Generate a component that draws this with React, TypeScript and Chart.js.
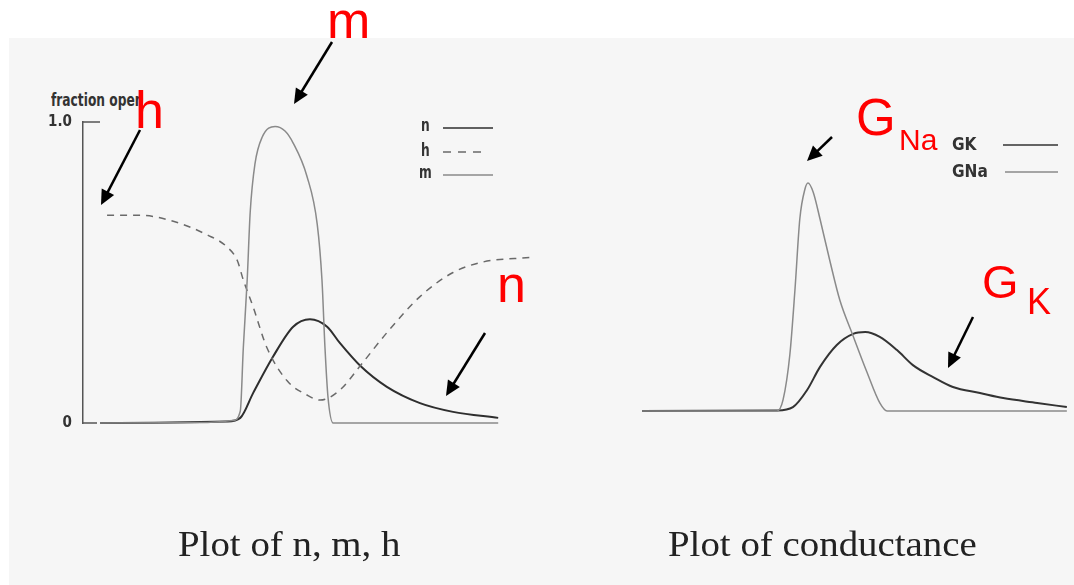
import React, { useEffect, useRef } from 'react';
import { Chart, registerables } from 'chart.js';

Chart.register(...registerables);

// ---- Left plot: gating variables (fraction open) vs time (arbitrary units) ----
const mTime = [0, 2.5, 3.09, 3.26, 3.33, 3.42, 3.49, 3.6, 3.77, 4.07, 4.3, 4.49, 4.81, 5.05, 5.16, 5.23, 5.3, 5.42, 9.26];
const mValues = [0, 0.002, 0.008, 0.04, 0.25, 0.475, 0.7, 0.86, 0.95, 0.985, 0.97, 0.93, 0.82, 0.66, 0.475, 0.25, 0.086, 0, 0];

const nTime = [0, 2.95, 3.26, 3.56, 4.02, 4.49, 4.88, 5.28, 5.58, 6.05, 6.67, 7.44, 8.21, 9.26];
const nValues = [0, 0.005, 0.017, 0.1, 0.22, 0.32, 0.345, 0.32, 0.265, 0.19, 0.12, 0.066, 0.037, 0.017];

const hTime = [0.16, 0.93, 1.7, 2.49, 2.95, 3.19, 3.33, 3.56, 3.88, 4.35, 4.81, 5.12, 5.58, 6.05, 6.67, 7.44, 8.21, 8.91, 10];
const hValues = [0.69, 0.69, 0.67, 0.625, 0.585, 0.54, 0.475, 0.385, 0.25, 0.14, 0.093, 0.076, 0.11, 0.19, 0.3, 0.42, 0.5, 0.535, 0.55];

const leftTickValues = [0, 1];
const leftTickLabels = ['0', '1.0'];

// ---- Right plot: conductances vs time ----
const gNaTime = [0, 3.14, 3.28, 3.44, 3.56, 3.67, 3.79, 3.86, 3.98, 4.14, 4.37, 4.6, 4.91, 5.23, 5.53, 5.7, 9.88];
const gNaValues = [0, 0, 0.037, 0.19, 0.41, 0.64, 0.74, 0.76, 0.73, 0.64, 0.5, 0.37, 0.25, 0.13, 0.027, 0, 0];

const gKTime = [0, 3.14, 3.51, 3.84, 4.14, 4.53, 4.91, 5.19, 5.53, 5.93, 6.3, 6.77, 7.23, 7.86, 8.4, 9.19, 9.88];
const gKValues = [0, 0.002, 0.013, 0.07, 0.147, 0.22, 0.257, 0.263, 0.247, 0.203, 0.153, 0.113, 0.08, 0.06, 0.043, 0.027, 0.013];

const toPoints = (xs: number[], ys: number[]) => xs.map((x, i) => ({ x, y: ys[i] }));

const CONDENSED = "'DejaVu Sans Condensed', 'DejaVu Sans', sans-serif";

const bracketPlugin = {
  id: 'bracketTicks',
  afterDraw(chart: any) {
    const y = chart.scales.y;
    if (!y || !y.options.display) return;
    const ctx = chart.ctx;
    const left = chart.chartArea.left;
    ctx.save();
    ctx.strokeStyle = '#555';
    ctx.lineWidth = 1.5;
    ctx.beginPath();
    const top = y.getPixelForValue(1);
    const bottom = y.getPixelForValue(0);
    ctx.moveTo(left, top);
    ctx.lineTo(left + 17, top);
    ctx.moveTo(left - 1, bottom);
    ctx.lineTo(left + 14, bottom);
    ctx.stroke();
    ctx.restore();
  },
};

function LeftChart() {
  const ref = useRef<HTMLCanvasElement>(null);
  useEffect(() => {
    const chart = new Chart(ref.current as HTMLCanvasElement, {
      type: 'line',
      data: {
        datasets: [
          { label: 'm', data: toPoints(mTime, mValues), borderColor: '#8a8a8a', borderWidth: 1.5 },
          { label: 'h', data: toPoints(hTime, hValues), borderColor: '#6a6a6a', borderWidth: 1.5, borderDash: [7, 6] },
          { label: 'n', data: toPoints(nTime, nValues), borderColor: '#2e2e2e', borderWidth: 2 },
        ].map((d) => ({ ...d, pointRadius: 0, fill: false, cubicInterpolationMode: 'monotone' as const, clip: 6 })),
      },
      options: {
        animation: false,
        responsive: false,
        devicePixelRatio: 1,
        layout: { padding: { left: 43, right: 30, top: 122, bottom: 162 } },
        plugins: { legend: { display: false }, tooltip: { enabled: false } },
        scales: {
          x: { type: 'linear', min: -0.4, max: 10, display: false },
          y: {
            type: 'linear',
            min: 0,
            max: 1,
            afterFit: (s: any) => { s.width = 40; },
            afterBuildTicks: (s: any) => { s.ticks = leftTickValues.map((v) => ({ value: v })); },
            ticks: {
              padding: 11,
              color: '#333',
              font: { family: CONDENSED, weight: 'bold', size: 15 },
              callback: (v: any) => leftTickLabels[leftTickValues.indexOf(Number(v))],
            },
            grid: { display: true, drawOnChartArea: false, drawTicks: false, color: 'rgba(0,0,0,0)' },
            border: { display: true, color: '#555', width: 1.5 },
          },
        },
      },
      plugins: [bracketPlugin],
    } as any);
    return () => chart.destroy();
  }, []);
  return <canvas ref={ref} width={560} height={585} style={{ position: 'absolute', left: 0, top: 0 }} />;
}

function RightChart() {
  const ref = useRef<HTMLCanvasElement>(null);
  useEffect(() => {
    const chart = new Chart(ref.current as HTMLCanvasElement, {
      type: 'line',
      data: {
        datasets: [
          { label: 'GNa', data: toPoints(gNaTime, gNaValues), borderColor: '#8a8a8a', borderWidth: 1.5 },
          { label: 'GK', data: toPoints(gKTime, gKValues), borderColor: '#333', borderWidth: 2 },
        ].map((d) => ({ ...d, pointRadius: 0, fill: false, cubicInterpolationMode: 'monotone' as const, clip: 6 })),
      },
      options: {
        animation: false,
        responsive: false,
        devicePixelRatio: 1,
        layout: { padding: { left: 42, right: 2, top: 111, bottom: 174 } },
        plugins: { legend: { display: false }, tooltip: { enabled: false } },
        scales: {
          x: { type: 'linear', min: 0, max: 10, display: false },
          y: { type: 'linear', min: 0, max: 1, display: false },
        },
      },
    } as any);
    return () => chart.destroy();
  }, []);
  return <canvas ref={ref} width={474} height={585} style={{ position: 'absolute', left: 600, top: 0 }} />;
}

type Arrow = { x1: number; y1: number; x2: number; y2: number };
const arrows: Arrow[] = [
  { x1: 332, y1: 42, x2: 294, y2: 104 },
  { x1: 140, y1: 130, x2: 101, y2: 205 },
  { x1: 485, y1: 333, x2: 446, y2: 396 },
  { x1: 832, y1: 137, x2: 807, y2: 161 },
  { x1: 973, y1: 317, x2: 948, y2: 368 },
];

function arrowHead(a: Arrow) {
  const dx = a.x2 - a.x1;
  const dy = a.y2 - a.y1;
  const len = Math.hypot(dx, dy);
  const ux = dx / len;
  const uy = dy / len;
  const L = 15;
  const W = 7;
  const bx = a.x2 - ux * L;
  const by = a.y2 - uy * L;
  return `${a.x2},${a.y2} ${bx - uy * W},${by + ux * W} ${bx + uy * W},${by - ux * W}`;
}

const redText = (text: string, left: number, top: number, size: number) => (
  <div
    style={{
      position: 'absolute',
      left,
      top,
      fontFamily: "'Liberation Sans', Arial, sans-serif",
      fontSize: size,
      lineHeight: 1,
      color: '#ff0000',
      whiteSpace: 'nowrap',
    }}
  >
    {text}
  </div>
);

const darkText = (text: string, left: number, top: number, size: number, scaleX = 1) => (
  <div
    style={{
      position: 'absolute',
      left,
      top,
      fontFamily: CONDENSED,
      fontWeight: 'bold',
      fontSize: size,
      lineHeight: 1,
      color: '#333',
      whiteSpace: 'nowrap',
      transform: `scaleX(${scaleX})`,
      transformOrigin: 'left top',
    }}
  >
    {text}
  </div>
);

const titleText = (text: string, left: number, top: number) => (
  <div
    style={{
      position: 'absolute',
      left,
      top,
      fontFamily: "'Liberation Serif', 'Times New Roman', serif",
      fontSize: 36,
      lineHeight: 1,
      color: '#222',
      whiteSpace: 'nowrap',
      transform: 'scaleX(1.08)',
      transformOrigin: 'left top',
    }}
  >
    {text}
  </div>
);

export default function App() {
  return (
    <div style={{ position: 'absolute', left: 0, top: 0, width: 1074, height: 585, background: '#fff', overflow: 'hidden' }}>
      <div style={{ position: 'absolute', left: 9, top: 38, right: 0, bottom: 0, background: '#f6f6f6' }} />
      {darkText('fraction open', 51, 92, 17, 0.8)}
      <LeftChart />
      <RightChart />
      {darkText('n', 421, 117, 17, 0.8)}
      {darkText('h', 421, 142, 17, 0.8)}
      {darkText('m', 419, 164, 17, 0.8)}
      {darkText('GK', 952, 135, 18, 0.95)}
      {darkText('GNa', 952, 162, 18, 0.95)}
      <svg width={1074} height={585} style={{ position: 'absolute', left: 0, top: 0 }}>
        <line x1={443} y1={128} x2={493} y2={128} stroke="#2e2e2e" strokeWidth={1.6} />
        <line x1={443} y1={152} x2={485} y2={152} stroke="#6a6a6a" strokeWidth={1.6} strokeDasharray="8 7" />
        <line x1={443} y1={175} x2={493} y2={175} stroke="#8a8a8a" strokeWidth={1.5} />
        <line x1={1003} y1={145} x2={1058} y2={145} stroke="#333" strokeWidth={1.6} />
        <line x1={1005} y1={172} x2={1058} y2={172} stroke="#8a8a8a" strokeWidth={1.5} />
        {arrows.map((a, i) => (
          <g key={i}>
            <line x1={a.x1} y1={a.y1} x2={a.x2 - ((a.x2 - a.x1) / Math.hypot(a.x2 - a.x1, a.y2 - a.y1)) * 10} y2={a.y2 - ((a.y2 - a.y1) / Math.hypot(a.x2 - a.x1, a.y2 - a.y1)) * 10} stroke="#000" strokeWidth={2.5} />
            <polygon points={arrowHead(a)} fill="#000" />
          </g>
        ))}
      </svg>
      {redText('m', 327, -6, 52)}
      {redText('h', 135, 84, 52)}
      {redText('n', 497, 258, 52)}
      {redText('G', 856, 92, 51)}
      {redText('Na', 899, 125, 30)}
      {redText('G', 982, 258, 47)}
      {redText('K', 1027, 284, 36)}
      {titleText('Plot of n, m, h', 178, 526)}
      {titleText('Plot of conductance', 668, 526)}
    </div>
  );
}
